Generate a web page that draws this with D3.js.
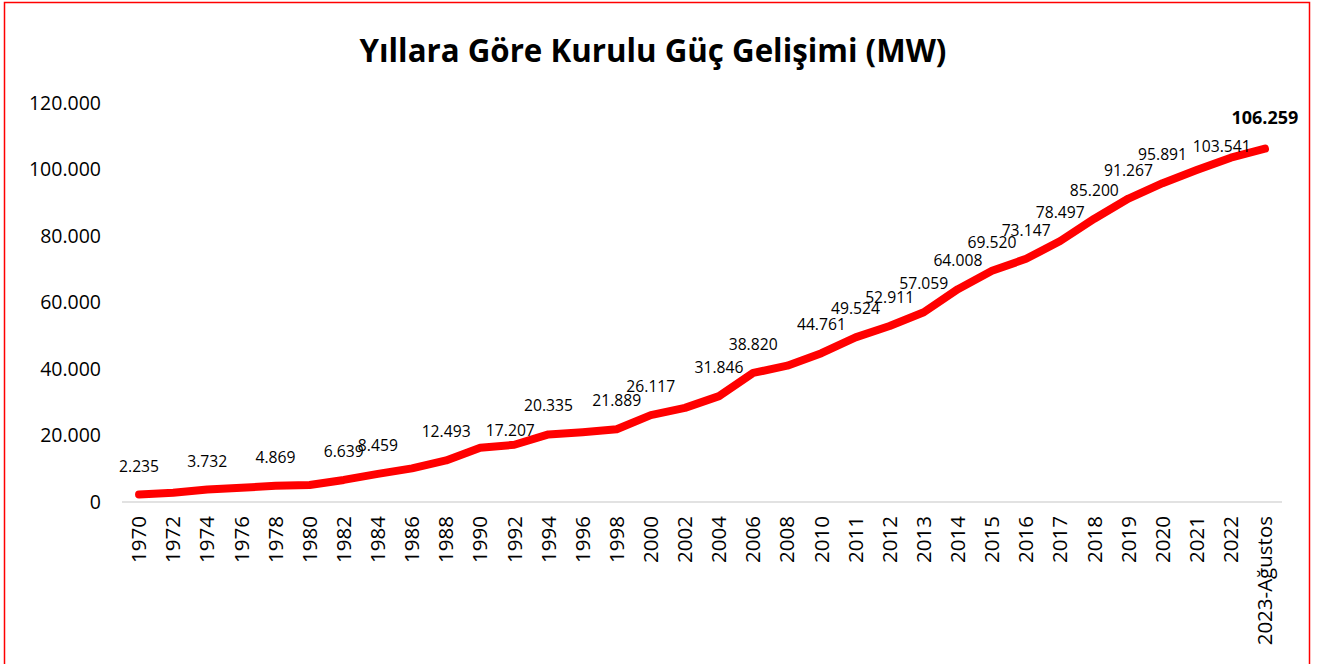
<!DOCTYPE html>
<html>
<head>
<meta charset="utf-8">
<script src="https://cdn.jsdelivr.net/npm/d3@7"></script>
<style>
  body { margin: 0; background: #fff; }
  svg { display: block; font-family: "Open Sans", sans-serif; }
</style>
</head>
<body>
<svg id="chart"></svg>
<script>
var width = 1317, height = 664;

// x categories
var years = ["1970", "1972", "1974", "1976", "1978", "1980", "1982", "1984", "1986", "1988",
             "1990", "1992", "1994", "1996", "1998", "2000", "2002", "2004", "2006", "2008",
             "2010", "2011", "2012", "2013", "2014", "2015", "2016", "2017", "2018", "2019",
             "2020", "2021", "2022", "2023-Ağustos"];

// installed capacity (MW)
var capacity = [2235, 2750, 3732, 4300, 4869, 5100, 6639, 8459, 10100, 12493,
                16300, 17207, 20335, 21000, 21889, 26117, 28300, 31846, 38820, 41000,
                44761, 49524, 52911, 57059, 64008, 69520, 73147, 78497, 85200, 91267,
                95891, 99820, 103541, 106259];

// points without a value label
var unlabeled = ["1972", "1976", "1980", "1986", "1990", "1996", "2002", "2008", "2021"];

var yTicks = [0, 20000, 40000, 60000, 80000, 100000, 120000];

var chartTitle = "Yıllara Göre Kurulu Güç Gelişimi (MW)";

var trLocale = d3.formatLocale({decimal: ",", thousands: ".", grouping: [3], currency: ["", " ₺"]});
var fmt = trLocale.format(",");

// labels that got nudged in the original to dodge their neighbours
var labelNudge = {"1992": [-4, 14], "2022": [-9, 17]};

function render_chart() {
  var svg = d3.select("#chart").attr("width", width).attr("height", height);

  // red frame
  svg.append("rect")
    .attr("x", 4.5).attr("y", 2.5)
    .attr("width", 1305).attr("height", 720)
    .attr("fill", "none")
    .attr("stroke", "#ff0000")
    .attr("stroke-width", 1.5);

  var title = svg.append("text")
    .attr("x", 653)
    .attr("y", 62)
    .attr("text-anchor", "middle")
    .attr("font-weight", "bold")
    .attr("font-size", 28)
    .attr("fill", "#000")
    .text(chartTitle);
  // fit title width to the reference
  var tl = title.node().getComputedTextLength();
  title.attr("font-size", 28 * 587 / tl);

  var x = d3.scaleBand()
    .domain(years)
    .range([122, 1282]);

  var y = d3.scaleLinear()
    .domain([0, 120000])
    .range([502, 103]);

  // y axis labels
  svg.append("g")
    .selectAll("text")
    .data(yTicks)
    .enter().append("text")
    .attr("x", 101)
    .attr("y", function(d) { return y(d); })
    .attr("dy", "0.35em")
    .attr("text-anchor", "end")
    .attr("font-size", 19.5)
    .attr("fill", "#000")
    .text(function(d) { return fmt(d); });

  // baseline
  svg.append("line")
    .attr("x1", 122).attr("x2", 1282)
    .attr("y1", y(0)).attr("y2", y(0))
    .attr("stroke", "#d9d9d9")
    .attr("stroke-width", 1.5);

  // x labels
  svg.append("g")
    .selectAll("text")
    .data(years)
    .enter().append("text")
    .attr("transform", function(d) {
      return "translate(" + (x(d) + x.bandwidth() / 2) + ",516) rotate(-90)";
    })
    .attr("dy", "0.35em")
    .attr("text-anchor", "end")
    .attr("font-size", 20.5)
    .attr("fill", "#000")
    .text(function(d) { return d; });

  var pts = years.map(function(d, i) { return {year: d, val: capacity[i]}; });

  var line = d3.line()
    .x(function(d) { return x(d.year) + x.bandwidth() / 2; })
    .y(function(d) { return y(d.val); });

  svg.append("path")
    .datum(pts)
    .attr("d", line)
    .attr("fill", "none")
    .attr("stroke", "#ff0000")
    .attr("stroke-width", 8)
    .attr("stroke-linecap", "round")
    .attr("stroke-linejoin", "round");

  // value labels
  var last = years[years.length - 1];
  svg.append("g")
    .selectAll("text")
    .data(pts.filter(function(d) { return unlabeled.indexOf(d.year) < 0; }))
    .enter().append("text")
    .attr("x", function(d) {
      var n = labelNudge[d.year] || [0, 0];
      return x(d.year) + x.bandwidth() / 2 + n[0];
    })
    .attr("y", function(d) {
      var n = labelNudge[d.year] || [0, 0];
      return y(d.val) - (d.year == last ? 25 : 23) + n[1];
    })
    .attr("text-anchor", "middle")
    .attr("font-size", function(d) { return d.year == last ? 18 : 15.7; })
    .attr("font-weight", function(d) { return d.year == last ? "bold" : "normal"; })
    .attr("fill", "#000")
    .text(function(d) { return fmt(d.val); });
}

render_chart();
</script>
</body>
</html>
